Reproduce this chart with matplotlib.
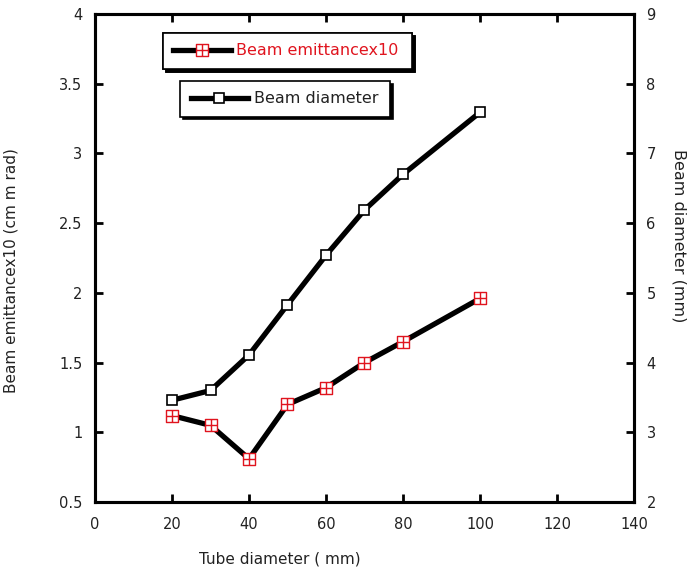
import numpy as np
import matplotlib
matplotlib.use('Agg')
import matplotlib.pyplot as plt
from matplotlib.path import Path

plt.rcParams['font.family'] = ['DejaVu Sans']

# data
tube = [20, 30, 40, 50, 60, 70, 80, 100]
emittance = [1.12, 1.05, 0.81, 1.20, 1.32, 1.50, 1.65, 1.96]
diameter = [3.46, 3.60, 4.11, 4.83, 5.54, 6.19, 6.70, 7.59]

xticks = [0, 20, 40, 60, 80, 100, 120, 140]
yticks_left = [0.5, 1, 1.5, 2, 2.5, 3, 3.5, 4]
yticks_right = [2, 3, 4, 5, 6, 7, 8, 9]

# square with a cross inside
boxcross = Path(
    [(-1, -1), (1, -1), (1, 1), (-1, 1), (-1, -1),
     (0, -1), (0, 1), (-1, 0), (1, 0)],
    [Path.MOVETO, Path.LINETO, Path.LINETO, Path.LINETO, Path.CLOSEPOLY,
     Path.MOVETO, Path.LINETO, Path.MOVETO, Path.LINETO])

fig = plt.figure(figsize=(6.95, 5.71), dpi=100)
ax = fig.add_axes([0.1367, 0.1208, 0.7755, 0.8546])
ax2 = ax.twinx()

l1, = ax.plot(tube, emittance, '-', color='black', lw=3.8,
              marker=boxcross, ms=8, mfc='white', mec='#e0141e', mew=1.0,
              solid_joinstyle='round', label='Beam emittancex10', zorder=3)
l2, = ax2.plot(tube, diameter, '-', color='black', lw=3.8,
               marker='s', ms=7, mfc='white', mec='black', mew=1.2,
               solid_joinstyle='round', label='Beam diameter', zorder=3)

ax.set_xlim(0, 140)
ax.set_ylim(0.5, 4)
ax2.set_ylim(2, 9)
ax.set_xticks(xticks)
ax.set_xticklabels([str(v) for v in xticks])
ax.set_yticks(yticks_left)
ax.set_yticklabels(['%g' % v for v in yticks_left])
ax2.set_yticks(yticks_right)
ax2.set_yticklabels([str(v) for v in yticks_right])

for a in (ax, ax2):
    for s in a.spines.values():
        s.set_linewidth(2.2)
ax.tick_params(axis='x', direction='in', top=True, length=6, width=2,
               labelsize=10.5, pad=11, labelcolor='#222222')
ax.tick_params(axis='y', direction='in', right=False, length=6, width=2,
               labelsize=10.5, pad=9, labelcolor='#222222')
ax2.tick_params(axis='y', direction='in', length=6, width=2,
                labelsize=10.5, pad=9, labelcolor='#222222')

ax.set_xlabel('Tube diameter ( mm)', fontsize=11, color='#222222')
ax.xaxis.set_label_coords(0.342, -0.102)
ax.set_ylabel('Beam emittancex10 (cm m rad)', fontsize=11, color='#222222')
ax.yaxis.set_label_coords(-0.142, 0.475)
ax2.set_ylabel('Beam diameter (mm)', fontsize=11.5, color='#222222',
               rotation=270, labelpad=14)
ax2.yaxis.set_label_coords(1.098, 0.545)

shadow = {'color': 'black', 'alpha': 1, 'ox': 2, 'oy': -2}
leg1 = ax.legend(handles=[l1], loc='upper left',
                 bbox_to_anchor=(0.126, 0.881, 0.462, 0.08), mode='expand',
                 fancybox=False, shadow=shadow, edgecolor='black',
                 framealpha=1, fontsize=11.5, labelcolor='#e0141e',
                 handlelength=3.6, handletextpad=0.35, borderpad=0.65,
                 borderaxespad=0)
leg1.get_frame().set_linewidth(1.2)
ax.add_artist(leg1)

leg2 = ax2.legend(handles=[l2], loc='upper left',
                  bbox_to_anchor=(0.158, 0.783, 0.389, 0.08), mode='expand',
                  fancybox=False, shadow=shadow, edgecolor='black',
                  framealpha=1, fontsize=11.5, labelcolor='#222222',
                  handlelength=3.6, handletextpad=0.35, borderpad=0.65,
                  borderaxespad=0)
leg2.get_frame().set_linewidth(1.2)

fig.savefig('out.png', dpi=100)
